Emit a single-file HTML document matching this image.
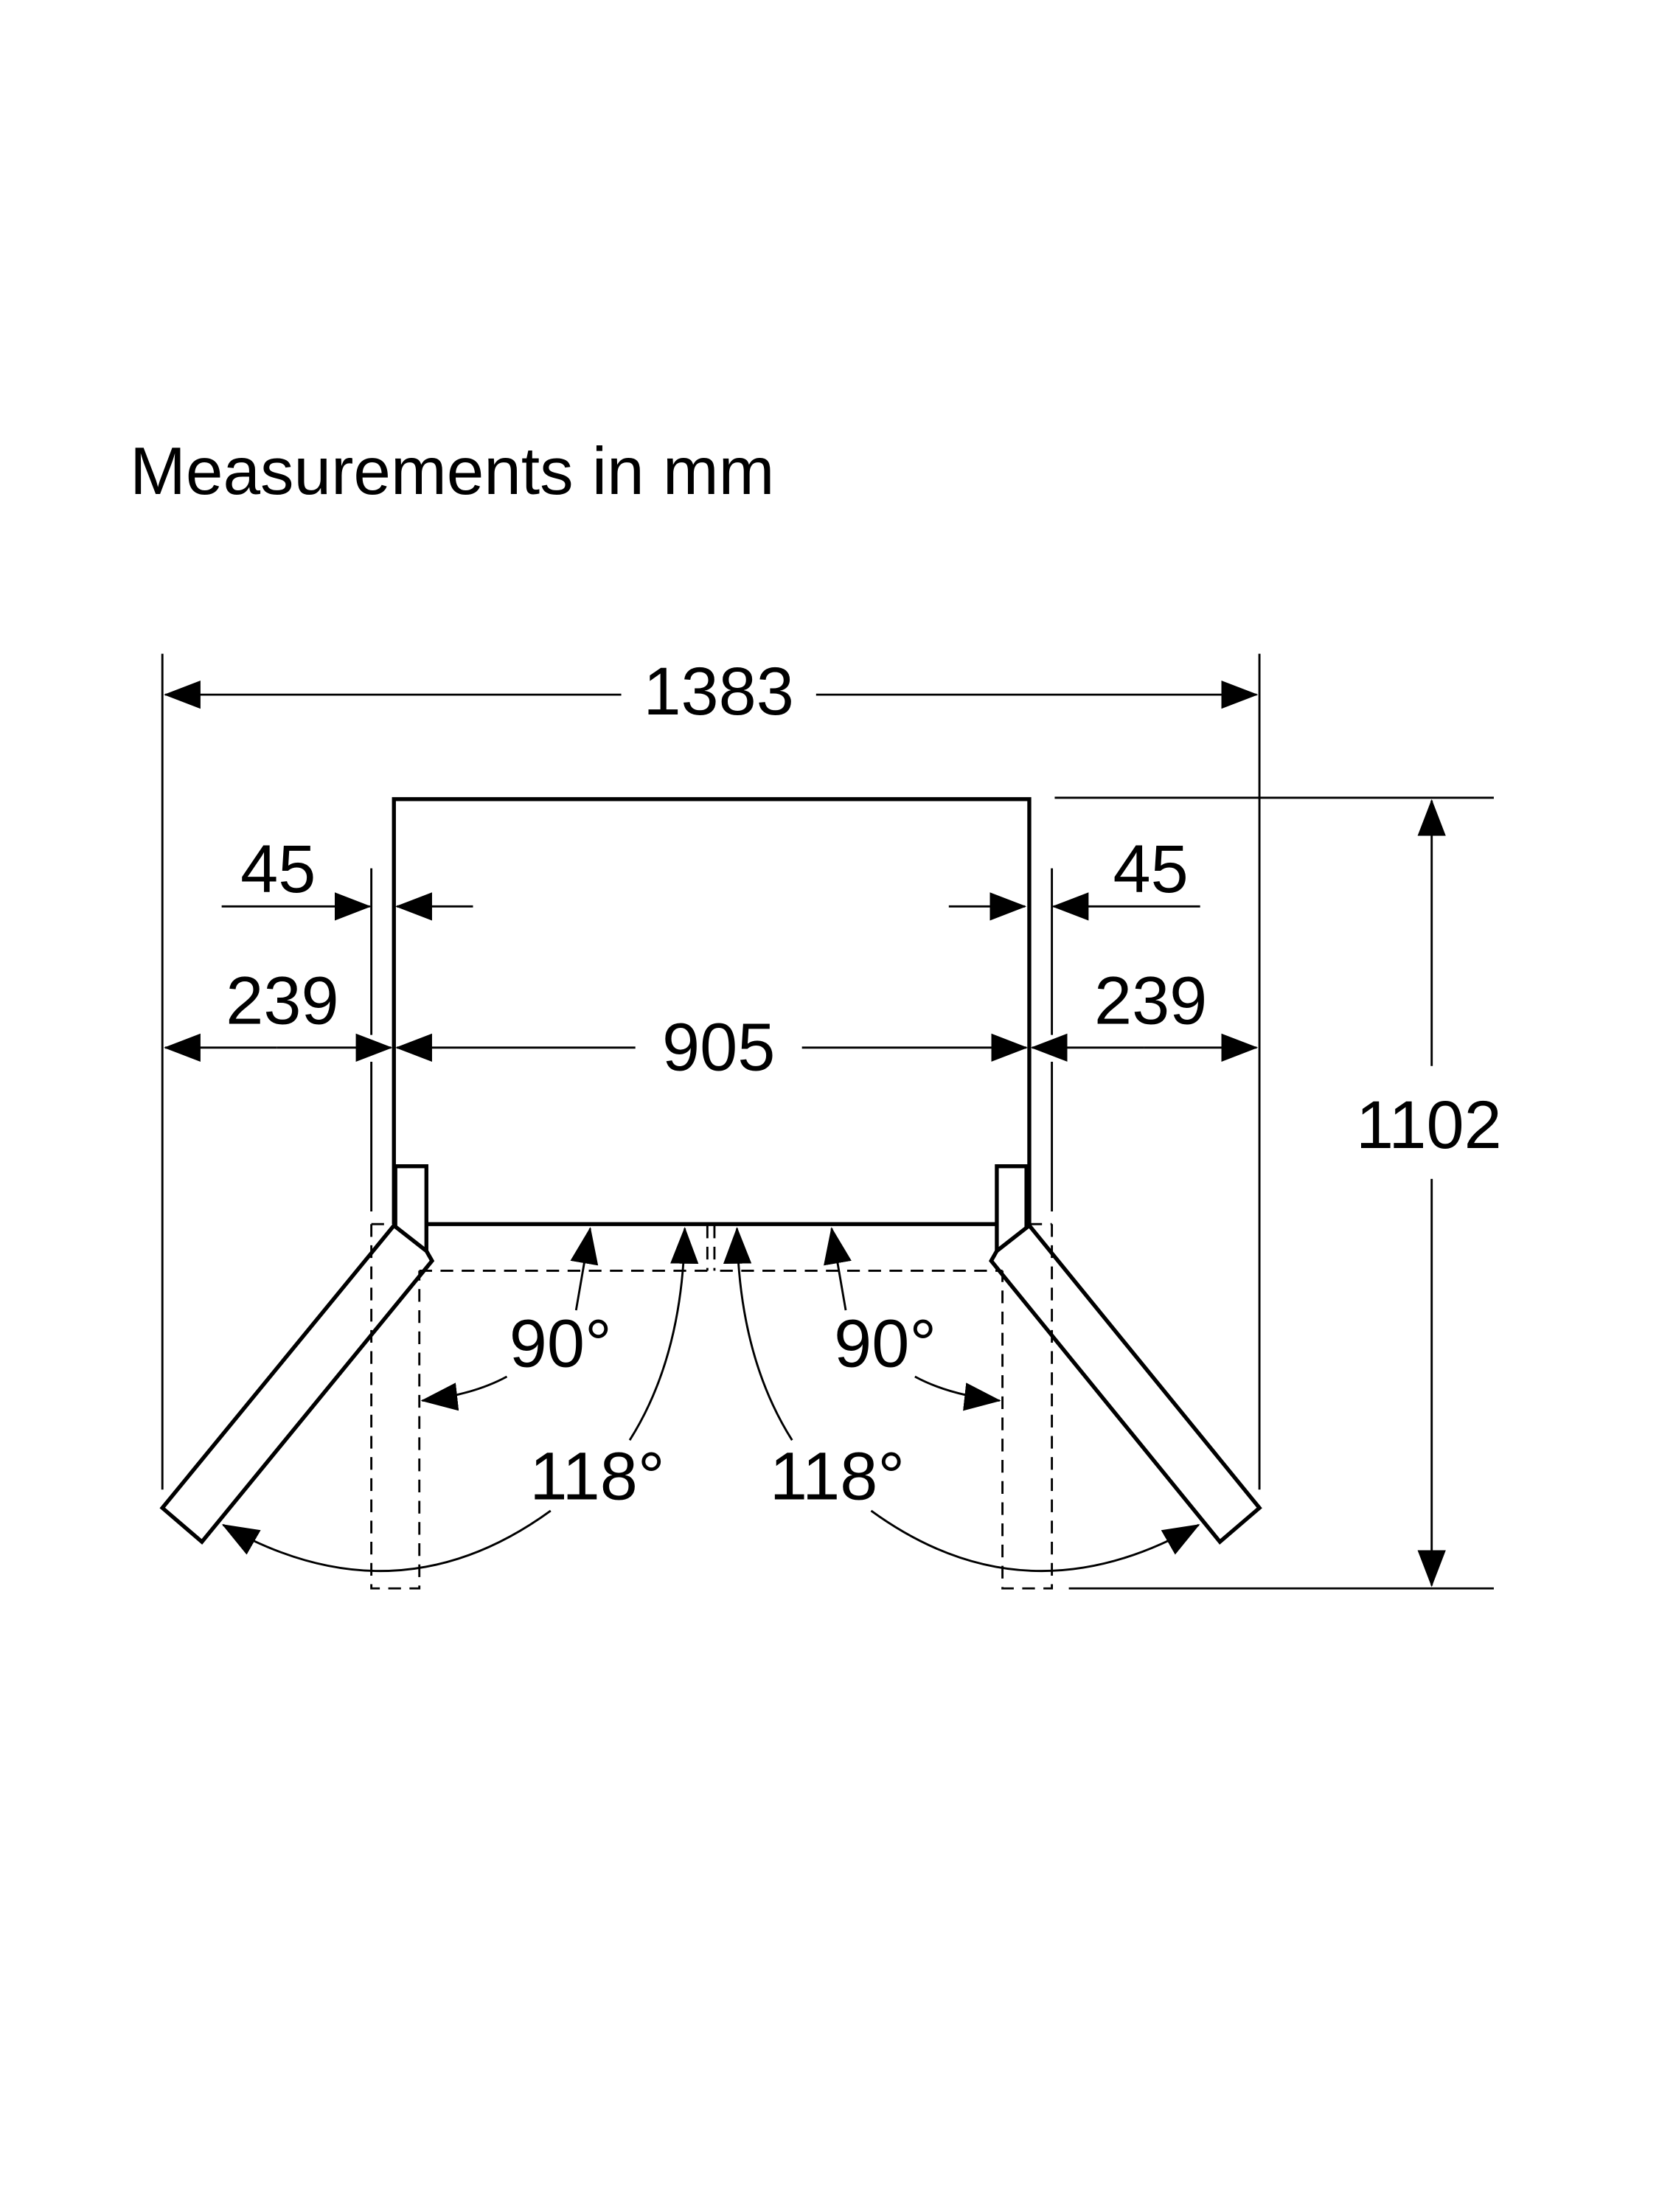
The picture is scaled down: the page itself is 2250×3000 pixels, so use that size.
<!DOCTYPE html>
<html><head><meta charset="utf-8"><style>
html,body{margin:0;padding:0;background:#fff}
svg{display:block}
text{font-family:"Liberation Sans",Arial,sans-serif;fill:#000}
</style></head><body>
<svg width="2250" height="3000" viewBox="0 0 1175 1566.67" xmlns="http://www.w3.org/2000/svg">
<defs>
<marker id="a" markerWidth="26" markerHeight="22" refX="25" refY="10" orient="auto" markerUnits="userSpaceOnUse">
<path d="M0,0 L26,10 L0,20 Z" fill="#000"/></marker>
</defs>
<rect width="1175" height="1566.67" fill="#fff"/>
<text x="92" y="350" font-size="47.5">Measurements in mm</text>

<g stroke="#000" stroke-width="1.5" fill="none">
<line x1="115" y1="463" x2="115" y2="1055"/>
<line x1="892" y1="463" x2="892" y2="1055"/>
<line x1="747" y1="565" x2="1058" y2="565"/>
<line x1="757" y1="1125" x2="1058" y2="1125"/>
<line x1="263" y1="615" x2="263" y2="733"/>
<line x1="263" y1="752" x2="263" y2="858"/>
<line x1="745" y1="615" x2="745" y2="733"/>
<line x1="745" y1="752" x2="745" y2="858"/>
<line x1="440" y1="492" x2="117" y2="492" marker-end="url(#a)"/>
<line x1="578" y1="492" x2="890" y2="492" marker-end="url(#a)"/>
<line x1="1014" y1="755" x2="1014" y2="567" marker-end="url(#a)"/>
<line x1="1014" y1="835" x2="1014" y2="1123" marker-end="url(#a)"/>
<line x1="157" y1="642" x2="262" y2="642" marker-end="url(#a)"/>
<line x1="335" y1="642" x2="281" y2="642" marker-end="url(#a)"/>
<line x1="850" y1="642" x2="746" y2="642" marker-end="url(#a)"/>
<line x1="672" y1="642" x2="726" y2="642" marker-end="url(#a)"/>
<line x1="196" y1="742" x2="117" y2="742" marker-end="url(#a)"/>
<line x1="196" y1="742" x2="277" y2="742" marker-end="url(#a)"/>
<line x1="810" y1="742" x2="731" y2="742" marker-end="url(#a)"/>
<line x1="810" y1="742" x2="890" y2="742" marker-end="url(#a)"/>
<line x1="450" y1="742" x2="281" y2="742" marker-end="url(#a)"/>
<line x1="568" y1="742" x2="727" y2="742" marker-end="url(#a)"/>
</g>

<g stroke="#000" stroke-width="2.8" fill="#fff">
<polyline points="279,867 279,566 729,566 729,867" fill="none"/>
<line x1="302" y1="867" x2="706" y2="867"/>
<rect x="280" y="826" width="22" height="60"/>
<rect x="706" y="826" width="21" height="60"/>
<polygon points="279,868 115,1068 143,1092 306,893 302,886"/>
<polygon points="729,868 892,1068 864,1092 702,893 706,886"/>
</g>

<g stroke="#000" stroke-width="1.5" fill="none" stroke-dasharray="9,6">
<line x1="297" y1="900" x2="503" y2="900"/>
<line x1="510" y1="900" x2="710" y2="900"/>
<line x1="501" y1="868" x2="501" y2="900"/>
<line x1="506" y1="868" x2="506" y2="900"/>
<polyline points="263,867 263,1125 297,1125 297,900"/>
<polyline points="745,867 745,1125 710,1125 710,900"/>
<line x1="263" y1="867" x2="279" y2="867"/>
<line x1="729" y1="867" x2="745" y2="867"/>
</g>

<g stroke="#000" stroke-width="1.5" fill="none">
<path d="M408,928 Q412,905 418,870" marker-end="url(#a)"/>
<path d="M446,1020 Q484,960 485,870" marker-end="url(#a)"/>
<path d="M599,928 Q595,905 589,870" marker-end="url(#a)"/>
<path d="M561,1020 Q523,960 522,870" marker-end="url(#a)"/>
<path d="M359,975 Q335,988 299,992" marker-end="url(#a)"/>
<path d="M648,975 Q672,988 708,992" marker-end="url(#a)"/>
<path d="M390,1070 Q280,1150 158,1080" marker-end="url(#a)"/>
<path d="M617,1070 Q727,1150 849,1080" marker-end="url(#a)"/>
</g>

<g font-size="48" text-anchor="middle">
<text x="509" y="506">1383</text>
<text x="1012" y="813">1102</text>
<text x="197" y="632">45</text>
<text x="815" y="632">45</text>
<text x="200" y="725">239</text>
<text x="815" y="725">239</text>
<text x="509" y="758">905</text>
<text x="397" y="968">90°</text>
<text x="627" y="968">90°</text>
<text x="423" y="1062">118°</text>
<text x="593" y="1062">118°</text>
</g>
</svg>
</body></html>
